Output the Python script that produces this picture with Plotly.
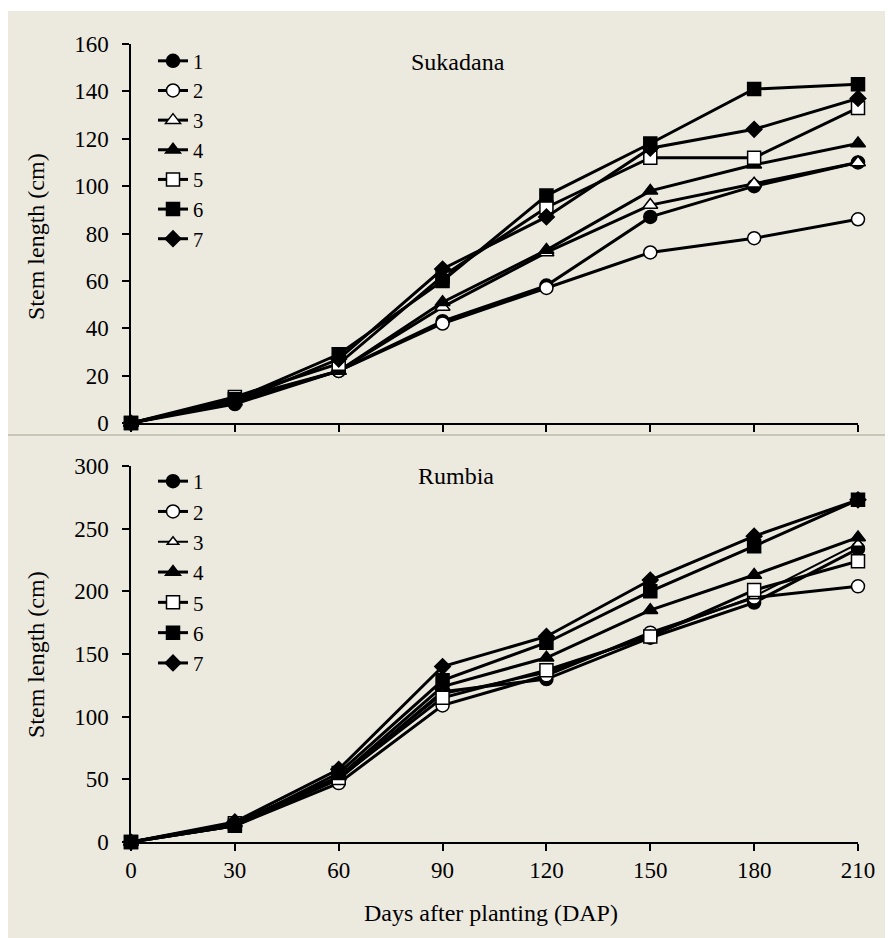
import plotly.graph_objects as go

days = [0, 30, 60, 90, 120, 150, 180, 210]
series_names = ["1", "2", "3", "4", "5", "6", "7"]

# Sukadana (top panel)
suk_1 = [0, 8, 22, 43, 58, 87, 100, 110]
suk_2 = [0, 9, 22, 42, 57, 72, 78, 86]
suk_3 = [0, 9, 22, 49, 72, 92, 101, 110]
suk_4 = [0, 10, 22, 51, 73, 98, 109, 118]
suk_5 = [0, 11, 25, 62, 91, 112, 112, 133]
suk_6 = [0, 10, 29, 60, 96, 118, 141, 143]
suk_7 = [0, 9, 27, 65, 87, 116, 124, 137]

# Rumbia (bottom panel)
rum_1 = [0, 13, 50, 120, 130, 163, 191, 234]
rum_2 = [0, 13, 47, 109, 133, 167, 195, 204]
rum_3 = [0, 15, 52, 118, 135, 165, 196, 238]
rum_4 = [0, 15, 52, 124, 147, 185, 213, 243]
rum_5 = [0, 15, 51, 115, 137, 164, 201, 224]
rum_6 = [0, 13, 55, 129, 159, 200, 236, 273]
rum_7 = [0, 16, 58, 140, 164, 209, 244, 273]

top_ticks = [0, 20, 40, 60, 80, 100, 120, 140, 160]
bot_ticks = [0, 50, 100, 150, 200, 250, 300]
x_ticks = [0, 30, 60, 90, 120, 150, 180, 210]

W, H = 893, 938
OFF = 8  # page body margin
FONT = "Liberation Serif, Times New Roman, serif"
BG = "#ECE9DF"

styles = [
    dict(symbol="circle", color="black", size=13),
    dict(symbol="circle", color="white", size=13),
    dict(symbol="triangle-up", color="white", size=13),
    dict(symbol="triangle-up", color="black", size=13),
    dict(symbol="square", color="white", size=13),
    dict(symbol="square", color="black", size=13),
    dict(symbol="diamond", color="black", size=12),
]

fig = go.Figure()
suk = [suk_1, suk_2, suk_3, suk_4, suk_5, suk_6, suk_7]
rum = [rum_1, rum_2, rum_3, rum_4, rum_5, rum_6, rum_7]

for name, vals, st in zip(series_names, suk, styles):
    fig.add_trace(go.Scatter(
        x=days, y=vals, name=name, mode="lines+markers",
        line=dict(color="black", width=3),
        marker=dict(symbol=st["symbol"], size=st["size"], color=st["color"],
                    line=dict(color="black", width=1.5)),
        xaxis="x", yaxis="y", legend="legend", cliponaxis=False))

for i, (name, vals, st) in enumerate(zip(series_names, rum, styles)):
    thin = (i == 2)
    fig.add_trace(go.Scatter(
        x=days, y=vals, name=name, mode="lines+markers",
        line=dict(color="black", width=2 if thin else 3),
        marker=dict(symbol=st["symbol"], size=10 if thin else st["size"], color=st["color"],
                    line=dict(color="black", width=1.5)),
        xaxis="x2", yaxis="y2", legend="legend2", cliponaxis=False))

def px_x(p):
    return (p - OFF) / W

def px_y(p):
    return 1 - (p - OFF) / H

xdom = [px_x(131), px_x(858)]
axis_common = dict(showgrid=False, zeroline=False, showline=True, linecolor="black",
                   linewidth=1.5, ticks="outside", ticklen=7, tickcolor="black",
                   tickwidth=1.5, automargin=False,
                   tickfont=dict(family=FONT, size=23, color="black"))

def label(text, x, y, angle=0):
    return dict(text=text, x=px_x(x), y=px_y(y), xref="paper", yref="paper",
                xanchor="center", yanchor="middle", showarrow=False,
                textangle=angle, font=dict(family=FONT, size=24, color="black"))

fig.update_layout(
    width=W, height=H,
    margin=dict(l=0, r=0, t=0, b=0, pad=0, autoexpand=False),
    paper_bgcolor="white", plot_bgcolor="rgba(0,0,0,0)",
    font=dict(family=FONT, color="black"),
    xaxis=dict(domain=xdom, range=[0, 210], tickvals=x_ticks, showticklabels=False,
               anchor="y", **axis_common),
    yaxis=dict(domain=[px_y(423), px_y(44)], range=[0, 160], tickvals=top_ticks,
               anchor="x", ticklabelstandoff=9, **axis_common),
    xaxis2=dict(domain=xdom, range=[0, 210], tickvals=x_ticks, anchor="y2", **axis_common),
    yaxis2=dict(domain=[px_y(842), px_y(466)], range=[0, 300], tickvals=bot_ticks,
                anchor="x2", ticklabelstandoff=9, **axis_common),
    legend=dict(x=px_x(153), y=px_y(41), xanchor="left", yanchor="top",
                bgcolor="rgba(0,0,0,0)", font=dict(family=FONT, size=20.5),
                itemwidth=30, tracegroupgap=0),
    legend2=dict(x=px_x(153), y=px_y(461), xanchor="left", yanchor="top",
                 bgcolor="rgba(0,0,0,0)", font=dict(family=FONT, size=21),
                 itemwidth=30, tracegroupgap=0),
    shapes=[
        dict(type="rect", xref="paper", yref="paper", x0=0, x1=1, y0=0, y1=px_y(11),
             fillcolor=BG, line=dict(width=0), layer="below"),
        dict(type="line", xref="paper", yref="paper", x0=0, x1=1, y0=px_y(435), y1=px_y(435),
             line=dict(color="#BDBAAD", width=1.5), layer="below"),
    ],
    annotations=[
        label("Sukadana", 458, 62),
        label("Rumbia", 456, 476),
        label("Stem length (cm)", 36, 237, -90),
        label("Stem length (cm)", 36, 655, -90),
        label("Days after planting (DAP)", 491, 913),
    ],
)

fig.write_html("out.html")
